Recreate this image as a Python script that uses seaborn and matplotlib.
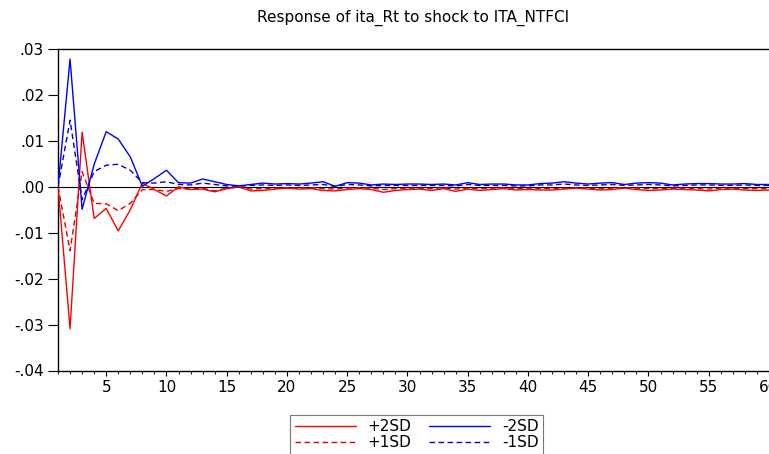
import numpy as np
import pandas as pd
import matplotlib
matplotlib.use("Agg")
import matplotlib.pyplot as plt
from matplotlib.ticker import MultipleLocator, FuncFormatter
import seaborn as sns

sns.set_theme(style="white")
plt.rcParams['font.family'] = ['DejaVu Sans']
plt.rcParams['text.color'] = 'black'

periods = list(range(1, 61))

plus2sd = [0.0, -0.0309, 0.0119, -0.0069, -0.0047, -0.0096, -0.0050, 0.0008, -0.0006, -0.0020,
           0.0000, -0.0006, -0.0005, -0.0011, -0.0004, 0.0000, -0.0009, -0.0008, -0.0005, -0.0003,
           -0.0005, -0.0004, -0.0008, -0.0009, -0.0006, -0.0004, -0.0006, -0.0012, -0.0008, -0.0006,
           -0.0005, -0.0008, -0.0004, -0.0010, -0.0005, -0.0008, -0.0006, -0.0004, -0.0007, -0.0006,
           -0.0007, -0.0007, -0.0005, -0.0003, -0.0005, -0.0007, -0.0006, -0.0003, -0.0006, -0.0008,
           -0.0007, -0.0005, -0.0006, -0.0007, -0.0009, -0.0006, -0.0005, -0.0007, -0.0008, -0.0007]

minus2sd = [0.0, 0.0278, -0.0049, 0.0049, 0.0120, 0.0104, 0.0065, 0.0001, 0.0018, 0.0036,
            0.0009, 0.0008, 0.0017, 0.0011, 0.0005, 0.0002, 0.0005, 0.0008, 0.0006, 0.0007,
            0.0006, 0.0008, 0.0011, 0.0001, 0.0009, 0.0008, 0.0004, 0.0006, 0.0005, 0.0006,
            0.0006, 0.0005, 0.0006, 0.0004, 0.0009, 0.0005, 0.0006, 0.0006, 0.0004, 0.0004,
            0.0007, 0.0008, 0.0011, 0.0008, 0.0006, 0.0008, 0.0009, 0.0005, 0.0008, 0.0009,
            0.0008, 0.0004, 0.0006, 0.0007, 0.0007, 0.0006, 0.0006, 0.0007, 0.0005, 0.0005]

plus1sd = [0.0, -0.0139, 0.0033, -0.0036, -0.0037, -0.0052, -0.0036, -0.0006, -0.0006, -0.0010,
           -0.0004, -0.0005, -0.0003, -0.0009, -0.0003, -0.0001, -0.0005, -0.0004, -0.0003, -0.0002,
           -0.0003, -0.0002, -0.0004, -0.0005, -0.0003, -0.0002, -0.0003, -0.0006, -0.0004, -0.0003,
           -0.0003, -0.0004, -0.0002, -0.0005, -0.0003, -0.0004, -0.0003, -0.0002, -0.0004, -0.0003,
           -0.0004, -0.0004, -0.0003, -0.0002, -0.0003, -0.0004, -0.0003, -0.0002, -0.0003, -0.0004,
           -0.0004, -0.0003, -0.0003, -0.0004, -0.0005, -0.0003, -0.0003, -0.0004, -0.0004, -0.0004]

minus1sd = [0.0, 0.0145, -0.0028, 0.0033, 0.0047, 0.0049, 0.0036, 0.0009, 0.0008, 0.0011,
            0.0005, 0.0004, 0.0008, 0.0005, 0.0002, 0.0001, 0.0003, 0.0004, 0.0003, 0.0004,
            0.0003, 0.0004, 0.0005, 0.0001, 0.0005, 0.0004, 0.0002, 0.0003, 0.0003, 0.0003,
            0.0003, 0.0003, 0.0003, 0.0002, 0.0005, 0.0003, 0.0003, 0.0003, 0.0002, 0.0002,
            0.0004, 0.0004, 0.0006, 0.0004, 0.0003, 0.0004, 0.0005, 0.0003, 0.0004, 0.0005,
            0.0004, 0.0002, 0.0003, 0.0004, 0.0004, 0.0003, 0.0003, 0.0004, 0.0003, 0.0003]

title = "Response of ita_Rt to shock to ITA_NTFCI"

FS = 11

fig = plt.figure(figsize=(7.69, 4.54), dpi=100)
ax = fig.add_axes([58 / 769, 1 - 370.5 / 454, 1 - 58 / 769, (370.5 - 49) / 454])

ax.axhline(0, color='black', lw=0.8, zorder=1)

series = [
    ("+2SD", plus2sd, "#ff0000", "-"),
    ("+1SD", plus1sd, "#e00000", (0, (4, 2.5))),
    ("-2SD", minus2sd, "#0000ff", "-"),
    ("-1SD", minus1sd, "#0000d0", (0, (4, 2.5))),
]
for label, vals, color, ls in series:
    df = pd.DataFrame({"period": periods, "value": vals})
    sns.lineplot(data=df, x="period", y="value", ax=ax, color=color,
                 linestyle=ls, linewidth=1.0, label=label, zorder=3)

ax.set_xlim(1, 60)
ax.set_ylim(-0.04, 0.03)
ax.set_xlabel("")
ax.set_ylabel("")

ax.xaxis.set_major_locator(MultipleLocator(5))
ax.xaxis.set_minor_locator(MultipleLocator(1))
ax.yaxis.set_major_locator(MultipleLocator(0.01))

def yfmt(v, pos):
    s = f"{v:.2f}"
    if s.startswith("-0"):
        return "-" + s[2:]
    if s.startswith("0"):
        return s[1:]
    return s
ax.yaxis.set_major_formatter(FuncFormatter(yfmt))
ax.xaxis.set_major_formatter(FuncFormatter(lambda v, p: f"{int(v)}" if v >= 5 else ""))

ax.tick_params(axis='x', which='major', direction='out', length=3.8, width=0.8,
               labelsize=FS, pad=3, bottom=True, colors='black')
ax.tick_params(axis='x', which='minor', direction='out', length=2.5, width=0.8, bottom=True)
ax.tick_params(axis='y', which='major', direction='out', length=7, width=0.8,
               labelsize=FS, pad=3, left=True, colors='black')

for side in ['left', 'bottom', 'top']:
    ax.spines[side].set_visible(True)
    ax.spines[side].set_color('black')
    ax.spines[side].set_linewidth(1.0)
ax.spines['right'].set_visible(False)

fig.text((58 + 769) / 2 / 769, 1 - 18 / 454, title, ha='center', va='center',
         fontsize=FS, color='black')

ax.get_legend().remove()
handles, labels = ax.get_legend_handles_labels()
leg = fig.legend(handles, labels, ncol=2, loc='upper center',
                 bbox_to_anchor=(416.5 / 769, 1 - 407 / 454),
                 bbox_transform=fig.transFigure,
                 fontsize=FS, frameon=True, fancybox=False, edgecolor='#555555',
                 handlelength=4.0, columnspacing=1.1, labelspacing=0.05,
                 borderpad=0.3, handletextpad=0.8)
leg.get_frame().set_linewidth(0.8)
for t in leg.get_texts():
    t.set_color('black')

fig.savefig("out.png", dpi=100)
